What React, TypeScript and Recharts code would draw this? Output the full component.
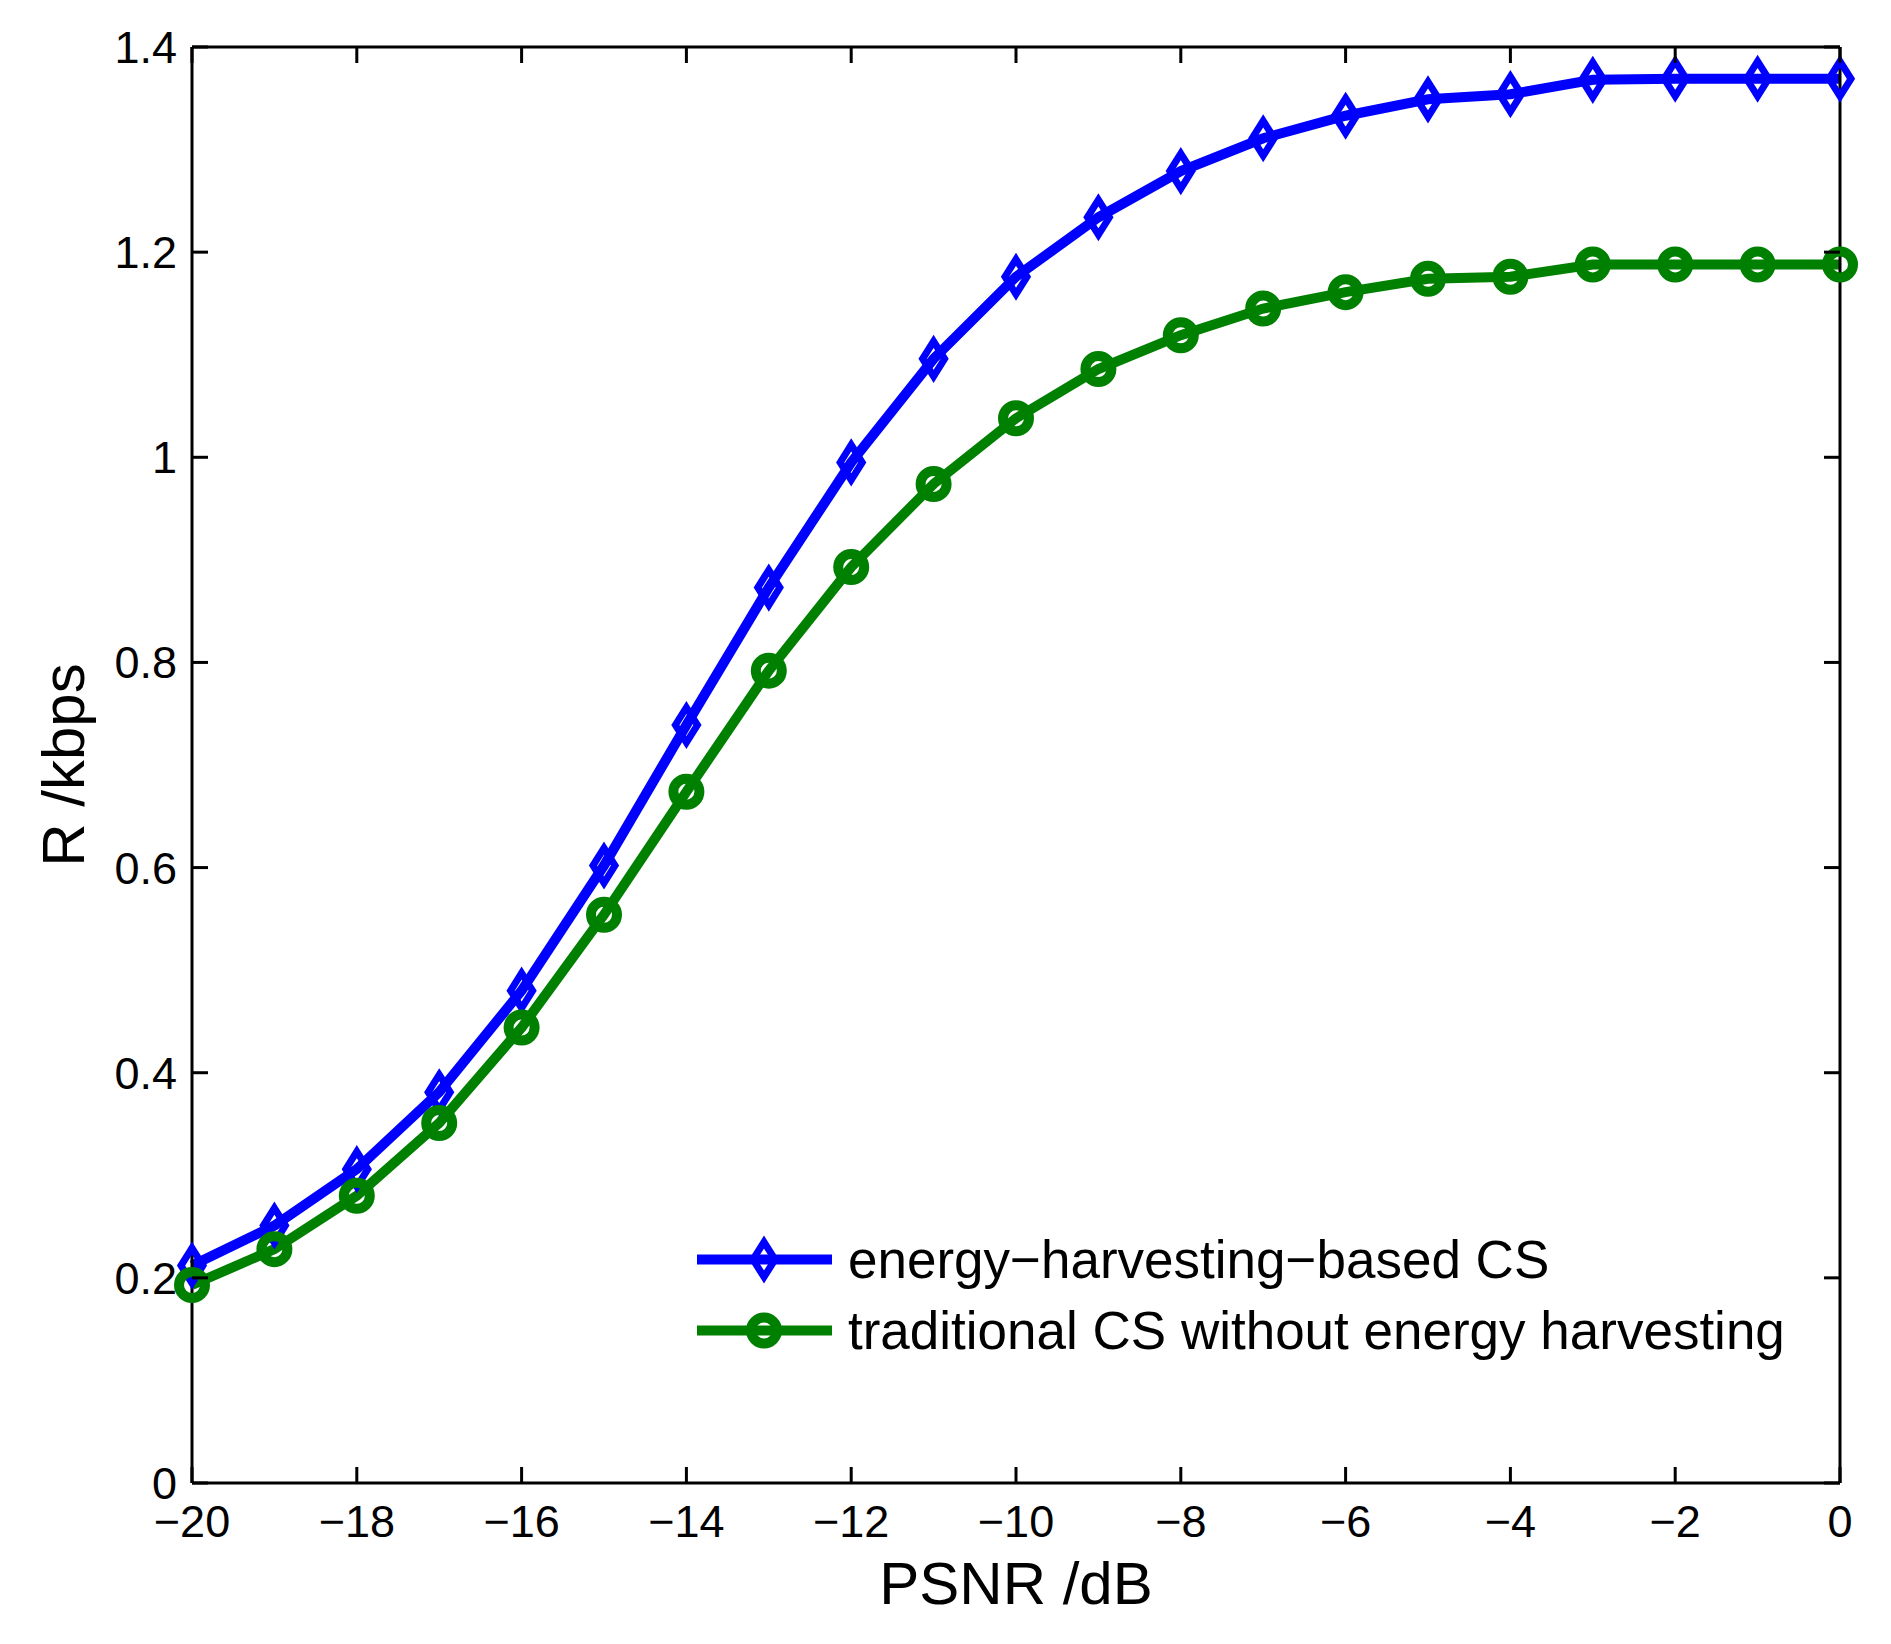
import { LineChart, Line, XAxis, YAxis, Legend } from "recharts"

const psnr = [-20, -19, -18, -17, -16, -15, -14, -13, -12, -11, -10, -9, -8, -7, -6, -5, -4, -3, -2, -1, 0]

// energy-harvesting-based CS
const harvestingRate = [
  0.212, 0.251, 0.306, 0.381, 0.48, 0.602, 0.739, 0.873, 0.995, 1.096, 1.176,
  1.234, 1.279, 1.311, 1.333, 1.349, 1.354, 1.368, 1.369, 1.369, 1.369,
]

// traditional CS without energy harvesting
const traditionalRate = [
  0.193, 0.228, 0.28, 0.351, 0.444, 0.554, 0.674, 0.792, 0.893, 0.974, 1.038,
  1.086, 1.119, 1.145, 1.161, 1.174, 1.176, 1.188, 1.188, 1.188, 1.188,
]

const xTicks = [-20, -18, -16, -14, -12, -10, -8, -6, -4, -2, 0]
const yTicks = [0, 0.2, 0.4, 0.6, 0.8, 1, 1.2, 1.4]

const data = psnr.map((p, i) => ({
  psnr: p,
  harvesting: harvestingRate[i],
  traditional: traditionalRate[i],
}))

const FONT = '"Liberation Sans", Arial, Helvetica, sans-serif'
const BLUE = "#0000ff"
const GREEN = "#008000"
const TICK_LEN = 16
const X_GAP = 22
const Y_GAP = 15

const fmtX = (v: number) => (v < 0 ? "\u2212" + Math.abs(v) : String(v))

const Diamond = (props: any) => {
  const { cx, cy, stroke, index } = props
  if (cx == null || cy == null) return <g key={`d${index}`} />
  return (
    <polygon
      key={`d${index}`}
      points={`${cx},${cy - 17.5} ${cx + 11},${cy} ${cx},${cy + 17.5} ${cx - 11},${cy}`}
      fill="none"
      stroke={stroke}
      strokeWidth={7}
    />
  )
}

const Ring = (props: any) => {
  const { cx, cy, stroke, index } = props
  if (cx == null || cy == null) return <g key={`c${index}`} />
  return <circle key={`c${index}`} cx={cx} cy={cy} r={13} fill="none" stroke={stroke} strokeWidth={10} />
}

const series = [
  { key: "harvesting", name: "energy\u2212harvesting\u2212based CS", color: BLUE, marker: "d" },
  { key: "traditional", name: "traditional CS without energy harvesting", color: GREEN, marker: "o" },
]

const LegendBox = () => (
  <div style={{ fontFamily: FONT, fontSize: 53, color: "#000" }}>
    {series.map((s) => (
      <div key={s.key} style={{ display: "flex", alignItems: "center", height: 71 }}>
        <svg width={135} height={71} style={{ overflow: "visible" }}>
          <line x1={0} y1={35.5} x2={135} y2={35.5} stroke={s.color} strokeWidth={10} />
          {s.marker === "d" ? (
            <Diamond cx={67} cy={35.5} stroke={s.color} index={0} />
          ) : (
            <Ring cx={67} cy={35.5} stroke={s.color} index={0} />
          )}
        </svg>
        <span style={{ marginLeft: 16, whiteSpace: "nowrap", lineHeight: 1 }}>{s.name}</span>
      </div>
    ))}
  </div>
)

// ticks point into the plot, as in MATLAB
const BottomTick = (props: any) => {
  const { x, y, payload } = props
  const axisY = y - X_GAP
  return (
    <g>
      <line x1={x} y1={axisY} x2={x} y2={axisY - TICK_LEN} stroke="#000" strokeWidth={3} />
      <text x={x} y={y} dy="0.71em" textAnchor="middle" fontSize={45} fontFamily={FONT} fill="#000">
        {fmtX(payload.value)}
      </text>
    </g>
  )
}

const LeftTick = (props: any) => {
  const { x, y, payload } = props
  const axisX = x + Y_GAP
  return (
    <g>
      <line x1={axisX} y1={y} x2={axisX + TICK_LEN} y2={y} stroke="#000" strokeWidth={3} />
      <text x={x} y={y} dy="0.355em" textAnchor="end" fontSize={45} fontFamily={FONT} fill="#000">
        {String(payload.value)}
      </text>
    </g>
  )
}

const TopTick = (props: any) => {
  const { x, y } = props
  return <line x1={x} y1={y} x2={x} y2={y + TICK_LEN} stroke="#000" strokeWidth={3} />
}

const RightTick = (props: any) => {
  const { x, y } = props
  return <line x1={x} y1={y} x2={x - TICK_LEN} y2={y} stroke="#000" strokeWidth={3} />
}

const XTitle = (props: any) => {
  const vb = props.viewBox
  return (
    <text x={vb.x + vb.width / 2} y={vb.y + 121} textAnchor="middle" fontSize={60} fontFamily={FONT} fill="#000">
      PSNR /dB
    </text>
  )
}

const YTitle = (props: any) => {
  const vb = props.viewBox
  const x = vb.x + 76
  const y = vb.y + vb.height / 2
  return (
    <text x={x} y={y} textAnchor="middle" fontSize={60} fontFamily={FONT} fill="#000" transform={`rotate(-90, ${x}, ${y})`}>
      R /kbps
    </text>
  )
}

const axisStyle = { stroke: "#000", strokeWidth: 3 }

export default function App() {
  return (
    <div style={{ width: 1875, height: 1636 }}>
      <LineChart width={1875} height={1636} data={data} margin={{ top: 38, right: 42, bottom: 0, left: 0 }}>
        <XAxis
          dataKey="psnr"
          type="number"
          domain={[-20, 0]}
          ticks={xTicks}
          tickSize={0}
          tickMargin={X_GAP}
          height={161}
          axisLine={axisStyle}
          tickLine={false}
          tick={BottomTick}
          interval={0}
          label={{ content: XTitle }}
        />
        <XAxis
          xAxisId="top"
          dataKey="psnr"
          orientation="top"
          type="number"
          domain={[-20, 0]}
          allowDataOverflow
          ticks={xTicks}
          tickSize={0}
          tickMargin={0}
          height={1}
          axisLine={axisStyle}
          tickLine={false}
          tick={TopTick}
          interval={0}
        />
        <YAxis
          type="number"
          domain={[0, 1.4]}
          ticks={yTicks}
          tickSize={0}
          tickMargin={Y_GAP}
          width={184}
          axisLine={axisStyle}
          tickLine={false}
          tick={LeftTick}
          interval={0}
          label={{ content: YTitle }}
        />
        <YAxis
          yAxisId="right"
          orientation="right"
          type="number"
          domain={[0, 1.4]}
          allowDataOverflow
          ticks={yTicks}
          tickSize={0}
          tickMargin={0}
          width={1}
          axisLine={axisStyle}
          tickLine={false}
          tick={RightTick}
          interval={0}
        />
        <Legend
          layout="vertical"
          align="center"
          verticalAlign="middle"
          content={LegendBox}
          wrapperStyle={{ left: 689, top: 1216, width: "auto" }}
        />
        <Line
          dataKey="harvesting"
          name={series[0].name}
          stroke={BLUE}
          strokeWidth={10}
          dot={Diamond}
          isAnimationActive={false}
        />
        <Line
          dataKey="traditional"
          name={series[1].name}
          stroke={GREEN}
          strokeWidth={10}
          dot={Ring}
          isAnimationActive={false}
        />
      </LineChart>
    </div>
  )
}
